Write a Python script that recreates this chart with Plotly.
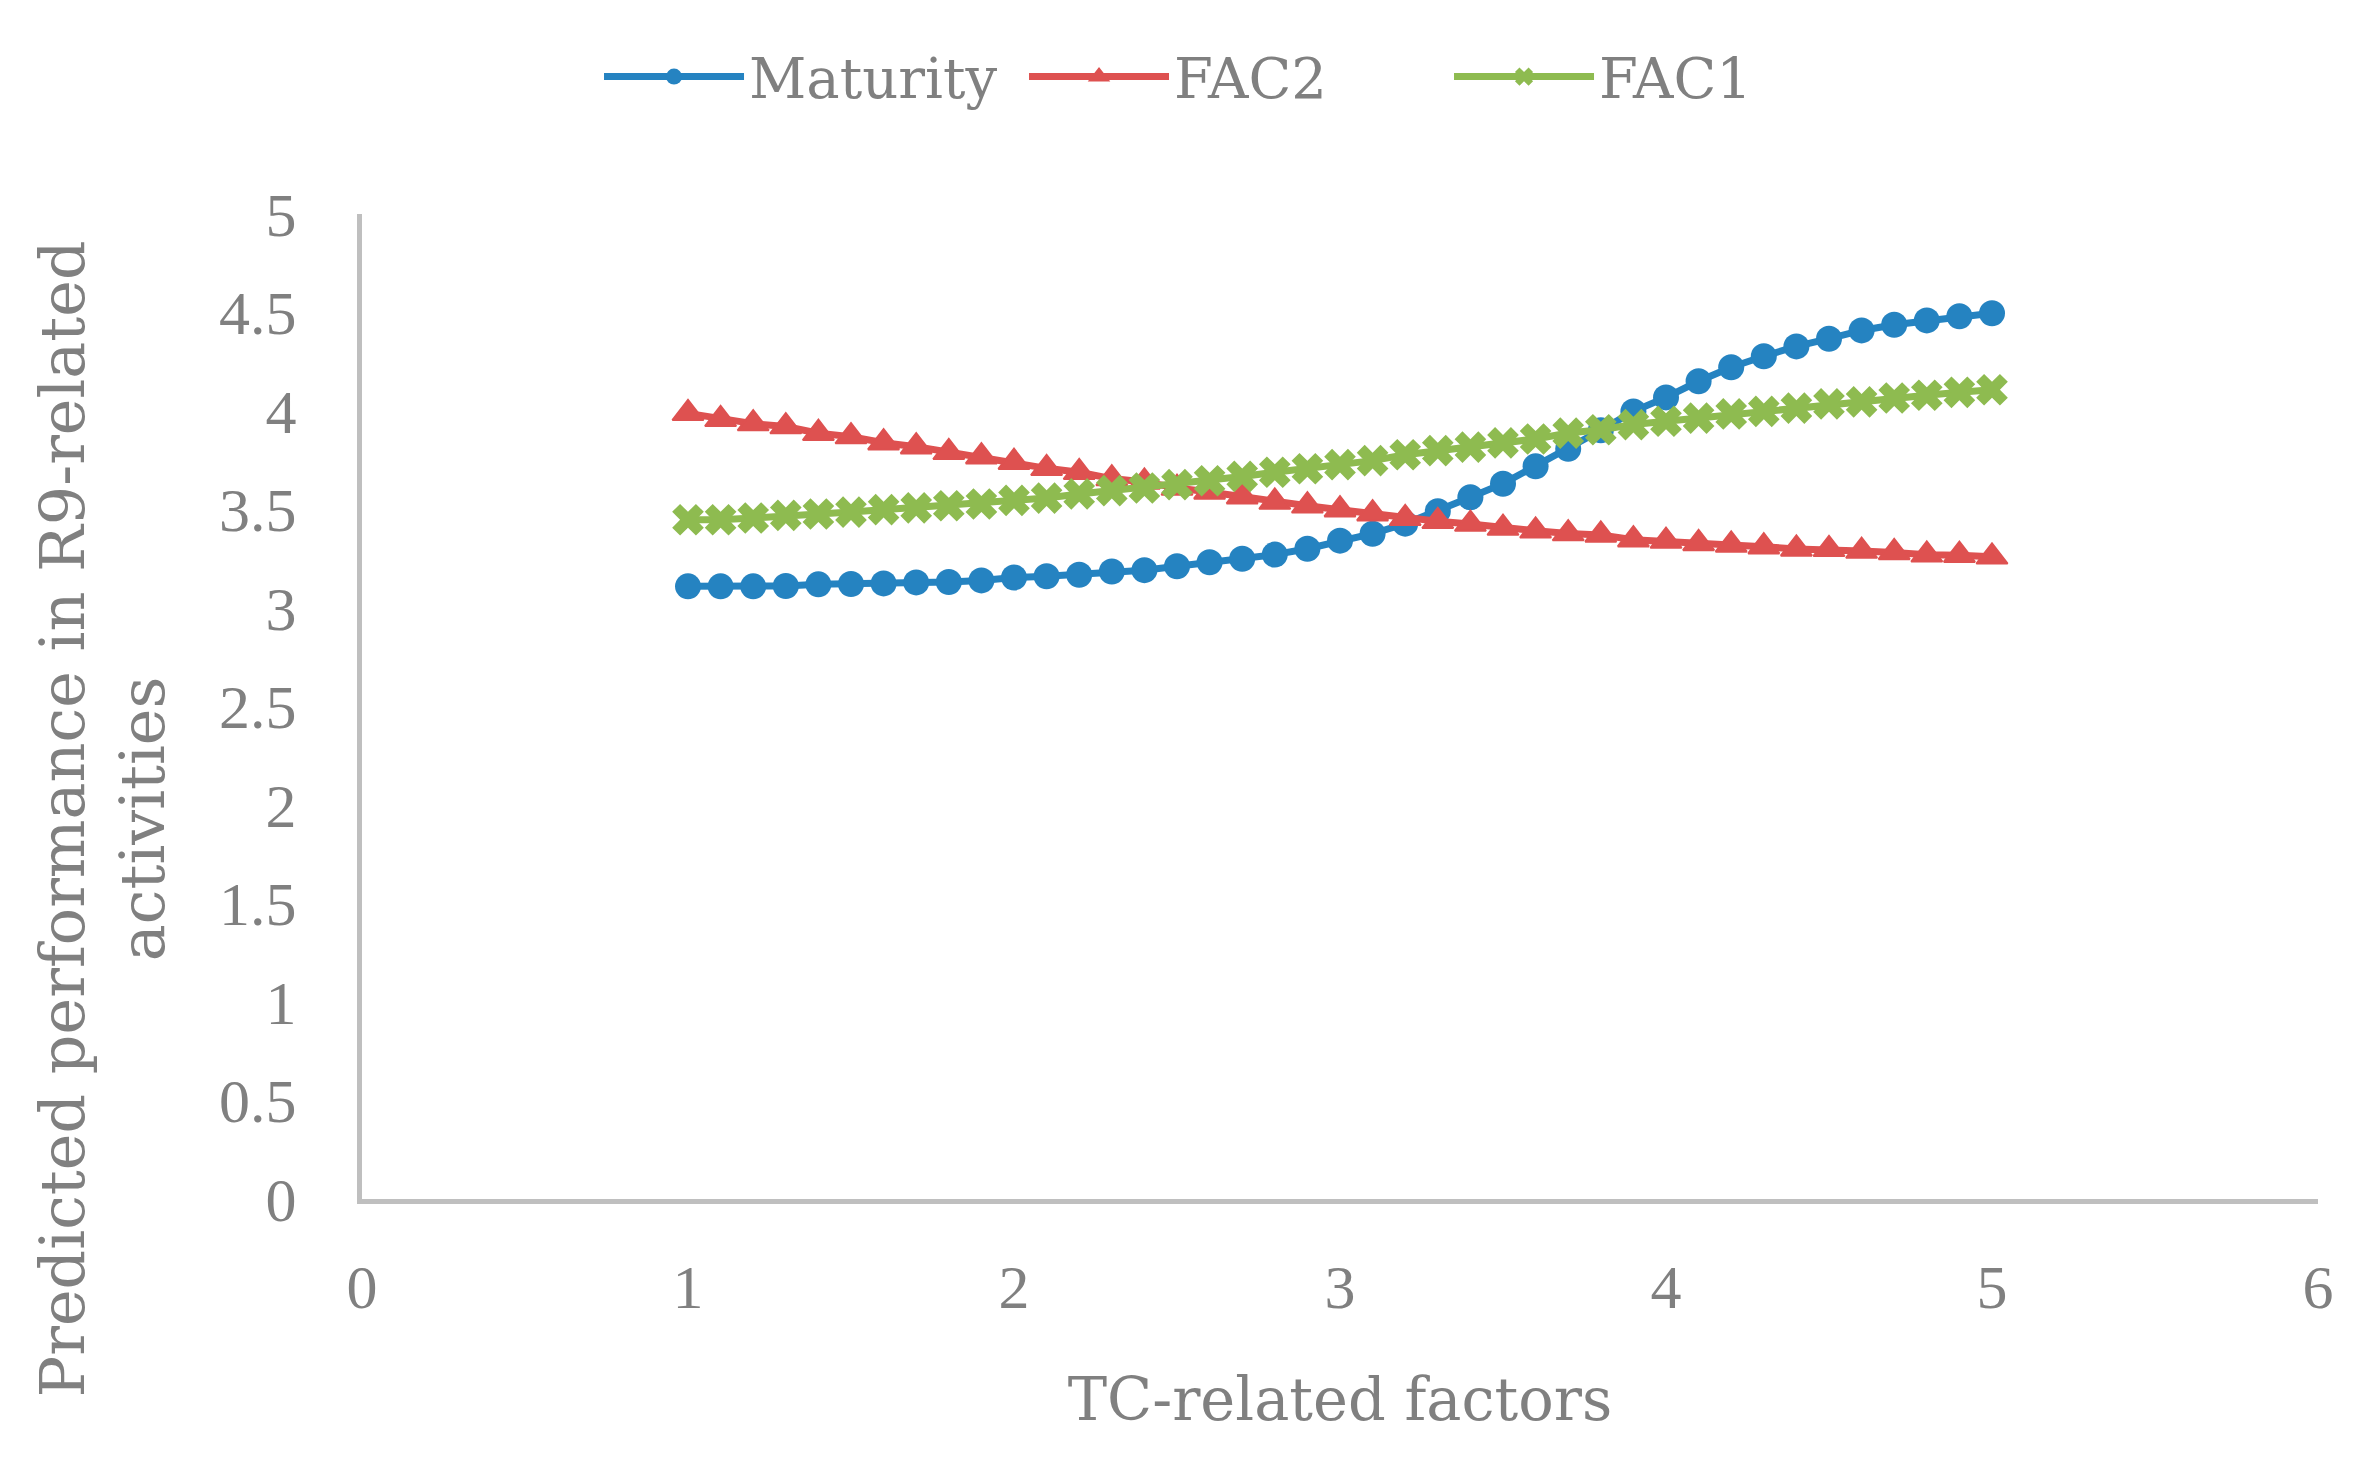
import plotly.graph_objects as go

x_values = [1.0, 1.1, 1.2, 1.3, 1.4, 1.5, 1.6, 1.7, 1.8, 1.9,
            2.0, 2.1, 2.2, 2.3, 2.4, 2.5, 2.6, 2.7, 2.8, 2.9,
            3.0, 3.1, 3.2, 3.3, 3.4, 3.5, 3.6, 3.7, 3.8, 3.9,
            4.0, 4.1, 4.2, 4.3, 4.4, 4.5, 4.6, 4.7, 4.8, 4.9, 5.0]

maturity = [3.110, 3.110, 3.110, 3.112, 3.120, 3.122, 3.125, 3.130, 3.132, 3.140,
            3.155, 3.161, 3.169, 3.185, 3.192, 3.212, 3.232, 3.250, 3.271, 3.301,
            3.342, 3.377, 3.428, 3.491, 3.562, 3.631, 3.719, 3.808, 3.902, 3.998,
            4.069, 4.151, 4.222, 4.278, 4.328, 4.367, 4.409, 4.438, 4.460, 4.481, 4.496]

fac2 = [3.988, 3.958, 3.936, 3.921, 3.887, 3.870, 3.839, 3.819, 3.790, 3.768,
        3.740, 3.709, 3.689, 3.657, 3.640, 3.609, 3.589, 3.565, 3.538, 3.519,
        3.499, 3.479, 3.455, 3.440, 3.426, 3.406, 3.392, 3.378, 3.371, 3.347,
        3.340, 3.328, 3.320, 3.311, 3.300, 3.298, 3.289, 3.282, 3.270, 3.268, 3.260]

fac1 = [3.448, 3.448, 3.457, 3.470, 3.477, 3.487, 3.499, 3.508, 3.519, 3.528,
        3.546, 3.558, 3.579, 3.596, 3.609, 3.626, 3.646, 3.668, 3.689, 3.707,
        3.728, 3.748, 3.778, 3.799, 3.817, 3.838, 3.858, 3.888, 3.905, 3.931,
        3.948, 3.964, 3.985, 3.998, 4.015, 4.036, 4.046, 4.066, 4.080, 4.095, 4.108]

series_names = ["Maturity", "FAC2", "FAC1"]
x_ticks = [0, 1, 2, 3, 4, 5, 6]
y_ticks = [0, 0.5, 1, 1.5, 2, 2.5, 3, 3.5, 4, 4.5, 5]
x_title = "TC-related factors"
y_title = "Predicted performance in R9-related<br>activities"

BLUE = "#2583C1"
RED = "#DE5150"
GREEN = "#8EBB50"
GREY = "#808080"
AXIS = "#BFBFBF"
FONT = "DejaVu Serif"
TICKFONT = "Liberation Serif"

fig = go.Figure()
fig.add_trace(go.Scatter(
    x=x_values, y=maturity, name=series_names[0], mode="lines+markers",
    line=dict(color=BLUE, width=7),
    marker=dict(symbol="circle", size=26, color=BLUE)))
fig.add_trace(go.Scatter(
    x=x_values, y=fac2, name=series_names[1], mode="lines+markers",
    line=dict(color=RED, width=7),
    marker=dict(symbol="triangle-up", size=27, color=RED,
                line=dict(color=RED, width=2))))
fig.add_trace(go.Scatter(
    x=x_values, y=fac1, name=series_names[2], mode="lines+markers",
    line=dict(color=GREEN, width=7),
    marker=dict(symbol="x", size=28, color=GREEN)))

fig.update_layout(
    width=2358, height=1462,
    margin=dict(l=354, r=48, t=206, b=271),
    paper_bgcolor="white", plot_bgcolor="white",
    font=dict(family=FONT, size=58, color=GREY),
    showlegend=True,
    legend=dict(orientation="h", xref="container", yref="container",
                x=0.521, xanchor="center", y=0.953, yanchor="middle",
                font=dict(family=FONT, size=56, color=GREY),
                itemwidth=140, entrywidth=270, entrywidthmode="pixels",
                tracegroupgap=0, itemsizing="trace"),
    xaxis=dict(range=[0, 6], tickvals=x_ticks, showgrid=False, zeroline=False,
               showline=True, linecolor=AXIS, linewidth=5,
               ticks="", ticklabelstandoff=30,
               tickfont=dict(family=TICKFONT, size=62, color=GREY),
               title=dict(text=x_title, standoff=60,
                          font=dict(family=FONT, size=59, color=GREY))),
    yaxis=dict(range=[0, 5], tickvals=y_ticks, showgrid=False, zeroline=False,
               showline=True, linecolor=AXIS, linewidth=5,
               ticks="", ticklabelstandoff=48,
               tickfont=dict(family=TICKFONT, size=62, color=GREY)),
    annotations=[dict(text=y_title, textangle=-90, showarrow=False,
                      xref="paper", yref="paper", x=-0.1326, y=0.386,
                      xanchor="center", yanchor="middle", align="center",
                      font=dict(family=FONT, size=62, color=GREY))],
)

fig.write_html("out.html")
